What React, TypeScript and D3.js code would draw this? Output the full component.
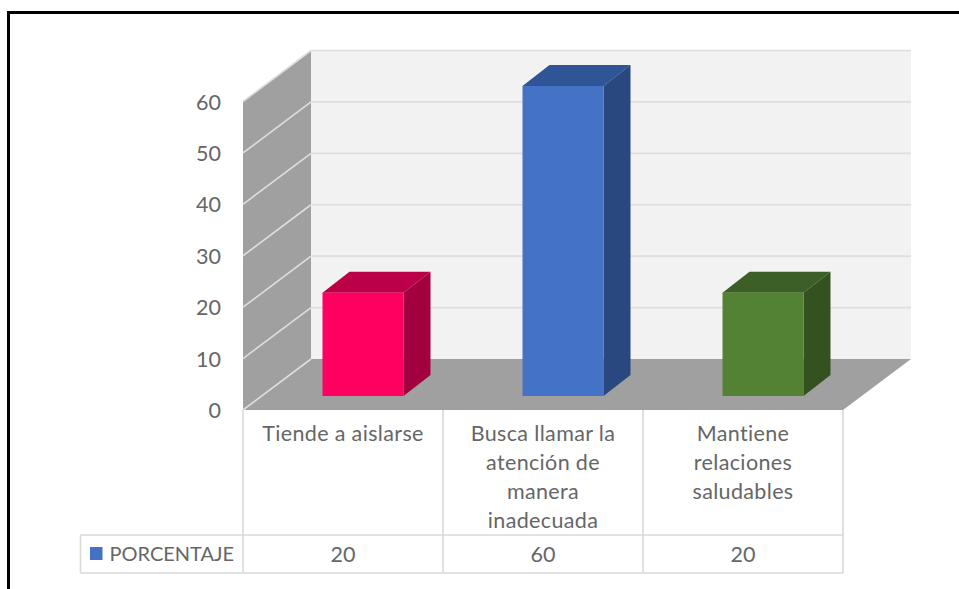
import React from "react";
import * as d3 from "d3";

const categories = ["Tiende a aislarse", "Busca llamar la atención de manera inadecuada", "Mantiene relaciones saludables"];
const categoryLines = [["Tiende a aislarse"], ["Busca llamar la", "atención de", "manera", "inadecuada"], ["Mantiene", "relaciones", "saludables"]];
const values = [20, 60, 20];
const ticks = [0, 10, 20, 30, 40, 50, 60];
const frontColors = ["#ff0060", "#4472c4", "#548235"];
const topColors = ["#bc0048", "#2f5597", "#3b5f26"];
const sideColors = ["#a30040", "#28487f", "#33521f"];
const seriesName = "PORCENTAJE";

const W = 959, H = 589;
const FX0 = 243, FX1 = 843, DX = 68, DY = 51, Y0 = 410, Y60 = 101.5;
const FONT = "Lato, Carlito, sans-serif";
const TXT = "#666666";

const y = d3.scaleLinear().domain([0, 60]).range([Y0, Y60]);
const yBar = d3.scaleLinear().domain([0, 60]).range([396, 86]);
const x = d3.scaleBand<number>().domain([0, 1, 2]).range([FX0, FX1]);
const poly = d3.line();

export default function App() {
  const barW = 81, bdx = 27, bdy = 21, shift = 20;
  return (
    <svg width={W} height={H} style={{ position: "absolute", left: 0, top: 0, background: "#fff" }} fontFamily={FONT}>
      <rect x={0} y={0} width={W} height={H} fill="#fff" />
      <path d={`M8.5,${H} V12.5 H${W}`} fill="none" stroke="#000" strokeWidth={3} />

      {/* back wall */}
      <rect x={FX0 + DX} y={y(60) - DY} width={FX1 - FX0} height={y(0) - y(60)} fill="#f2f2f2" />
      {/* left wall */}
      <path d={poly([[FX0, y(0)], [FX0, y(60)], [FX0 + DX, y(60) - DY], [FX0 + DX, y(0) - DY]])!} fill="#a0a0a0" />
      {/* floor */}
      <path d={poly([[FX0, y(0)], [FX0 + DX, y(0) - DY], [FX1 + DX, y(0) - DY], [FX1, y(0)]])!} fill="#a0a0a0" />

      {ticks.map((t) => (
        <g key={t} stroke="#dedede" strokeWidth={1.6} fill="none">
          {t > 0 && <path d={poly([[FX0 + DX, y(t) - DY], [FX1 + DX, y(t) - DY]])!} />}
          <path d={poly([[FX0, y(t)], [FX0 + DX, y(t) - DY]])!} />
        </g>
      ))}

      {values.map((v, i) => {
        const cx = (x(i) as number) + x.bandwidth() / 2 + shift;
        const l = cx - barW / 2, r = l + barW;
        const t = yBar(v), b = yBar(0);
        return (
          <g key={categories[i]}>
            <path d={poly([[l, t], [l + bdx, t - bdy], [r + bdx, t - bdy], [r, t]])!} fill={topColors[i]} />
            <path d={poly([[r, t], [r + bdx, t - bdy], [r + bdx, b - bdy], [r, b]])!} fill={sideColors[i]} />
            <rect x={l} y={t} width={barW} height={b - t} fill={frontColors[i]} />
          </g>
        );
      })}

      {ticks.map((t) => (
        <text key={t} x={221} y={y(t) + 8} textAnchor="end" fontSize={21.5} fill={TXT}>{t}</text>
      ))}

      {/* data table */}
      <g stroke="#d9d9d9" strokeWidth={1.6} fill="none">
        <path d={`M${FX0},${Y0} V573`} />
        <path d={`M${x(1)},${Y0} V573`} />
        <path d={`M${x(2)},${Y0} V573`} />
        <path d={`M${FX1},${Y0} V573`} />
        <path d={`M80.5,535 H${FX1} M80.5,573 H${FX1} M80.5,535 V573`} />
      </g>
      {categoryLines.map((lines, i) => (
        <g key={i}>
          {lines.map((ln, j) => (
            <text key={j} x={(x(i) as number) + x.bandwidth() / 2} y={441 + j * 29} textAnchor="middle" fontSize={21.5} letterSpacing={0.35} fill={TXT}>{ln}</text>
          ))}
          <text x={(x(i) as number) + x.bandwidth() / 2} y={562} textAnchor="middle" fontSize={21.5} fill={TXT}>{values[i]}</text>
        </g>
      ))}
      <rect x={90} y={547} width={12.5} height={13} fill={frontColors[1]} />
      <text x={109.5} y={561} fontSize={20} fill={TXT}>{seriesName}</text>
    </svg>
  );
}
